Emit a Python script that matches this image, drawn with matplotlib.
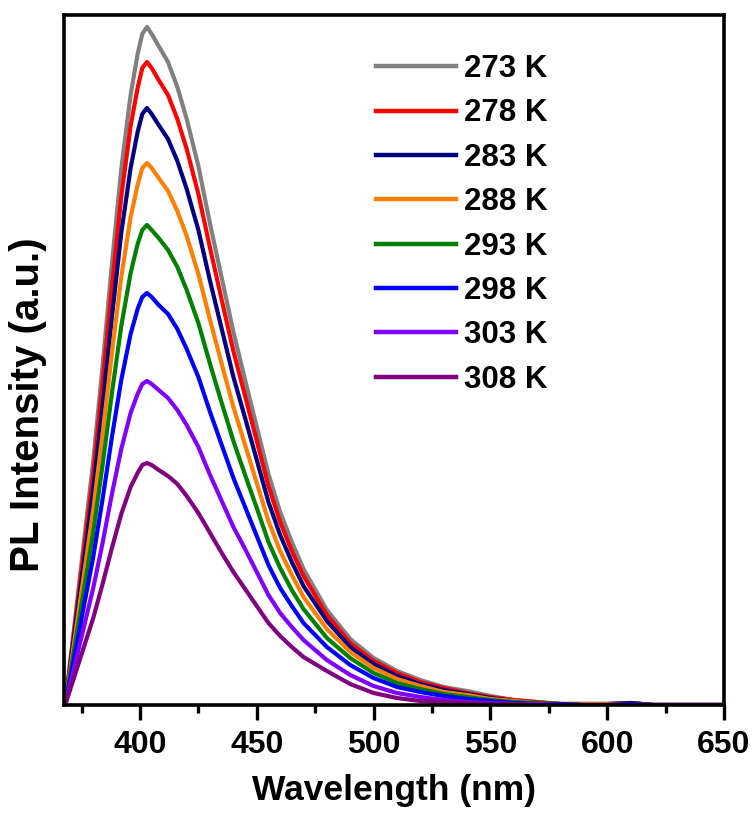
import matplotlib
matplotlib.use("Agg")
import matplotlib.pyplot as plt
from matplotlib.ticker import MultipleLocator

plt.rcParams['font.family'] = ['Liberation Sans', 'DejaVu Sans']
plt.rcParams['font.weight'] = 'bold'

# wavelength grid (nm)
wavelength = [368, 372, 376, 380, 384, 388, 392, 396, 399, 401, 403, 405, 408, 412, 416,
              420, 425, 430, 435, 440, 445, 450, 455, 460, 465, 470, 480, 490,
              500, 510, 520, 530, 540, 550, 560, 570, 580, 590, 600, 610, 620, 635, 650]

# PL intensity (a.u.)
pl_273 = [0, 81, 163, 244, 339, 441, 536, 610, 651, 671, 678, 671, 659, 643, 618, 586, 539, 481, 427, 373, 325, 278,
          231, 193, 163, 136, 95, 66, 47, 34, 25, 18, 14, 9, 5, 3, 1, 1, 1, 2, 0, 0, 0]
pl_278 = [0, 77, 154, 231, 322, 418, 508, 579, 617, 637, 643, 637, 625, 610, 586, 556, 511, 457, 405, 354, 309, 264,
          219, 183, 154, 129, 90, 62, 44, 32, 23, 17, 12, 8, 5, 3, 1, 1, 1, 2, 0, 0, 0]
pl_283 = [0, 72, 143, 215, 299, 388, 472, 537, 573, 591, 597, 591, 580, 566, 544, 516, 475, 424, 376, 328, 287, 245,
          203, 170, 143, 119, 84, 58, 41, 29, 21, 15, 11, 7, 4, 2, 1, 1, 1, 2, 0, 0, 0]
pl_288 = [0, 65, 130, 195, 271, 352, 428, 488, 520, 537, 542, 537, 527, 514, 494, 469, 431, 385, 341, 298, 260, 222,
          184, 154, 130, 108, 76, 53, 37, 26, 19, 13, 10, 6, 4, 2, 1, 1, 1, 1, 0, 0, 0]
pl_293 = [0, 58, 115, 173, 240, 312, 379, 432, 461, 475, 480, 475, 467, 455, 438, 415, 382, 341, 302, 264, 230, 197,
          163, 137, 115, 96, 67, 47, 32, 22, 16, 11, 8, 5, 3, 2, 1, 0, 0, 1, 0, 0, 0]
pl_298 = [0, 49, 99, 148, 206, 268, 325, 371, 396, 408, 412, 408, 400, 391, 376, 356, 328, 293, 260, 227, 198, 169,
          140, 117, 99, 82, 58, 40, 27, 18, 13, 9, 6, 4, 2, 1, 1, 0, 0, 1, 0, 0, 0]
pl_303 = [0, 39, 78, 117, 162, 211, 256, 292, 311, 321, 324, 321, 315, 307, 295, 280, 258, 230, 204, 178, 156, 133,
          110, 92, 78, 65, 45, 30, 19, 12, 8, 5, 3, 2, 1, 1, 0, 0, 0, 0, 0, 0, 0]
pl_308 = [0, 29, 58, 87, 121, 157, 191, 218, 232, 240, 242, 240, 235, 229, 221, 209, 192, 172, 152, 133, 116, 99,
          82, 69, 58, 48, 34, 21, 12, 7, 4, 3, 2, 1, 1, 0, 0, 0, 0, 0, 0, 0, 0]

labels = ["273 K", "278 K", "283 K", "288 K", "293 K", "298 K", "303 K", "308 K"]
spectra = [pl_273, pl_278, pl_283, pl_288, pl_293, pl_298, pl_303, pl_308]
colors = ['#808080', '#ff0000', '#000080', '#ff8000', '#008000', '#0000ff', '#8000ff', '#800080']

fig = plt.figure(figsize=(7.56, 8.14), dpi=100)
ax = fig.add_axes([0.0847, 0.1339, 0.873, 0.8477])

for spec, lab, col in zip(spectra, labels, colors):
    ax.plot(wavelength, spec, color=col, lw=3, label=lab, solid_joinstyle='round')

ax.set_xlim(367.5, 650)
ax.set_ylim(0, 690)
ax.xaxis.set_major_locator(MultipleLocator(50))
ax.xaxis.set_minor_locator(MultipleLocator(25))
ax.set_yticks([])
ax.tick_params(axis='x', which='major', direction='out', length=11, width=2.4, labelsize=23, pad=7)
ax.tick_params(axis='x', which='minor', direction='out', length=6, width=2.4)
for sp in ax.spines.values():
    sp.set_linewidth(2.6)

ax.set_xlabel("Wavelength (nm)", fontsize=25.5, fontweight='bold', labelpad=10)
ax.set_ylabel("PL Intensity (a.u.)", fontsize=29, fontweight='bold')
ax.yaxis.set_label_coords(-0.026, 0.435)

leg = ax.legend(loc='upper left', bbox_to_anchor=(0.44, 0.975), frameon=False, fontsize=22.5,
                handlelength=2.55, handletextpad=0.25, labelspacing=0.46, borderpad=0.2)
for line in leg.get_lines():
    line.set_linewidth(3.2)

fig.savefig("out.png", dpi=100)
